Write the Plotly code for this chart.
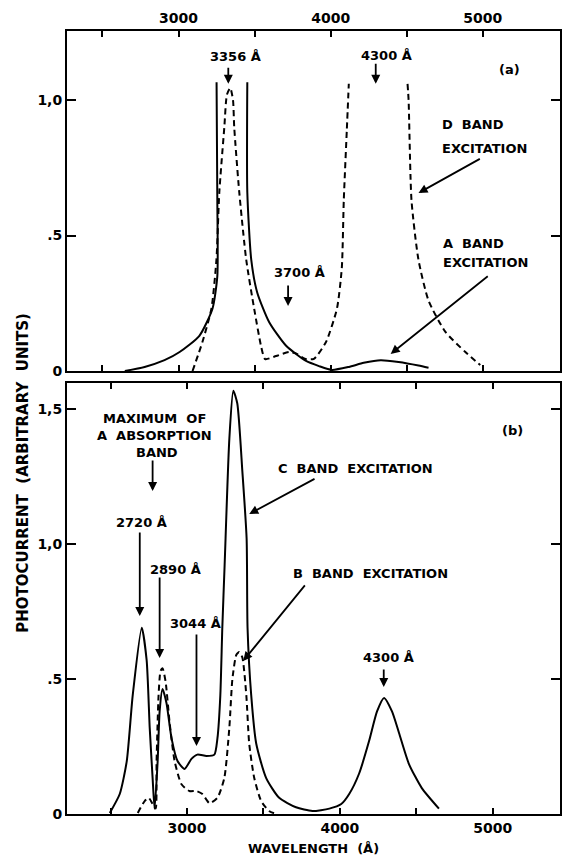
import plotly.graph_objects as go

# ---------------- data ----------------
# Panel (a): A band excitation (solid), off-scale peak drawn truncated
a_band_wl = [2647, 2777, 2908, 3007, 3137, 3223, 3255, 3255, 3250, None,
             3452, 3452, 3478, 3517, 3596, 3707, 3838, 3923, 4008, 4119,
             4217, 4329, 4446, 4577, 4643]
a_band_pc = [0, 0.015, 0.04, 0.07, 0.13, 0.23, 0.35, 0.63, 1.066, None,
             1.066, 0.66, 0.41, 0.29, 0.18, 0.093, 0.037, 0.018, 0.004, 0.015,
             0.03, 0.04, 0.033, 0.02, 0.012]

# Panel (a): D band excitation (dashed)
d_band_wl = [3092, 3157, 3216, 3249, 3268, 3301, 3318, 3340, 3358, 3366,
             3399, 3445, 3497, 3543, 3569, 3641, 3726, 3772, 3830, 3890,
             3969, 4041, 4073, 4086, 4106, 4119, None,
             4505, 4512, 4531, 4577, 4643, 4754, 4885, 4983]
d_band_pc = [0, 0.107, 0.23, 0.41, 0.66, 0.9, 1.02, 1.045, 1.0, 0.9,
             0.66, 0.41, 0.23, 0.09, 0.044, 0.055, 0.07, 0.065, 0.045, 0.045,
             0.107, 0.23, 0.38, 0.63, 0.89, 1.06, None,
             1.06, 1.0, 0.63, 0.41, 0.26, 0.144, 0.07, 0.022]

# Panel (b): C band excitation (solid)
c_band_wl = [2495, 2560, 2606, 2645, 2704, 2736, 2756, 2775, 2788, 2808,
             2821, 2840, 2866, 2899, 2938, 2984, 3029, 3068, 3127, 3179,
             3199, 3218, 3231, 3246, 3277, 3303, 3329, 3362, 3390, 3396,
             3420, 3453, 3518, 3603, 3713, 3820, 3931, 4009, 4061, 4126,
             4191, 4243, 4289, 4341, 4387, 4452, 4536, 4648]
c_band_pc = [0.004, 0.074, 0.196, 0.44, 0.69, 0.57, 0.32, 0.133, 0.019, 0.196,
             0.38, 0.463, 0.41, 0.28, 0.196, 0.167, 0.204, 0.22, 0.215, 0.22,
             0.28, 0.44, 0.69, 0.92, 1.39, 1.567, 1.52, 1.27, 1.02, 0.69,
             0.44, 0.26, 0.133, 0.06, 0.025, 0.011, 0.02, 0.037, 0.074, 0.15,
             0.27, 0.38, 0.43, 0.38, 0.3, 0.185, 0.096, 0.02]

# Panel (b): B band excitation (dashed)
b_band_wl = [2678, 2723, 2749, 2775, 2795, 2801, 2814, 2827, 2840, 2860,
             2886, 2919, 2964, 3016, 3062, 3101, 3147, 3199, 3244, 3277,
             3297, 3323, 3342, 3362, 3388, 3407, 3440, 3485, 3537, 3583]
b_band_pc = [0.004, 0.048, 0.06, 0.037, 0.02, 0.196, 0.44, 0.53, 0.54, 0.49,
             0.34, 0.196, 0.11, 0.085, 0.085, 0.074, 0.04, 0.06, 0.133, 0.32,
             0.5, 0.59, 0.6, 0.58, 0.44, 0.26, 0.133, 0.048, 0.011, 0]

x_tickvals = [2500, 3000, 3500, 4000, 4500, 5000]
x_ticktext = ["", "3000", "", "4000", "", "5000"]
ya_tickvals = [0, 0.5, 1.0]
ya_ticktext = ["0", ".5", "1,0"]
yb_tickvals = [0, 0.5, 1.0, 1.5]
yb_ticktext = ["0", ".5", "1,0", "1,5"]

# ---------------- figure ----------------
FONT = "DejaVu Sans"
LW = 2.0

fig = go.Figure()
line_solid = dict(color="black", width=LW, shape="spline", smoothing=0.6)
line_dash = dict(color="black", width=LW, dash="6px,4px", shape="spline", smoothing=0.6)

fig.add_trace(go.Scatter(x=a_band_wl, y=a_band_pc, mode="lines", line=line_solid,
                         xaxis="x", yaxis="y", connectgaps=False, name="A band"))
fig.add_trace(go.Scatter(x=d_band_wl, y=d_band_pc, mode="lines", line=line_dash,
                         xaxis="x", yaxis="y", connectgaps=False, name="D band"))
fig.add_trace(go.Scatter(x=c_band_wl, y=c_band_pc, mode="lines", line=line_solid,
                         xaxis="x2", yaxis="y2", name="C band"))
fig.add_trace(go.Scatter(x=b_band_wl, y=b_band_pc, mode="lines", line=line_dash,
                         xaxis="x2", yaxis="y2", name="B band"))

tickfont = dict(family=FONT, size=14, color="black", weight="bold")
axis_common = dict(showline=True, linewidth=LW, linecolor="black", ticks="inside",
                   tickwidth=LW, tickcolor="black", showgrid=False, zeroline=False,
                   tickfont=tickfont, fixedrange=True)

RA = [2267, 5507]
RB = [2215, 5440]

fig.update_layout(
    width=567, height=860, autosize=False,
    margin=dict(l=67, r=5, t=31, b=46),
    paper_bgcolor="white", plot_bgcolor="white",
    showlegend=False,
    xaxis=dict(axis_common, domain=[0, 1], anchor="y", side="top", range=RA,
               tickvals=x_tickvals, ticktext=x_ticktext, ticklen=6, mirror="ticks"),
    xaxis3=dict(domain=[0, 1], anchor="y", overlaying="x", side="bottom", range=RA,
                tickvals=x_tickvals, ticks="outside", ticklen=20, tickwidth=LW,
                tickcolor="black", showticklabels=False, showline=False,
                showgrid=False, zeroline=False, fixedrange=True),
    yaxis=dict(axis_common, domain=[0.5658, 1], anchor="x", range=[0, 1.255],
               tickvals=ya_tickvals, ticktext=ya_ticktext, ticklen=9, mirror="ticks"),
    xaxis2=dict(axis_common, domain=[0, 1], anchor="y2", side="bottom", range=RB,
                tickvals=x_tickvals, ticktext=x_ticktext, ticklen=6, mirror="ticks"),
    yaxis2=dict(axis_common, domain=[0, 0.5504], anchor="x2", range=[0, 1.596],
                tickvals=yb_tickvals, ticktext=yb_ticktext, ticklen=9, mirror="ticks"),
)

afont = dict(family=FONT, size=13, color="black", weight="bold")


def label(text, x, y, xr, yr, xanchor="center"):
    fig.add_annotation(text=text, x=x, y=y, xref=xr, yref=yr, showarrow=False,
                       font=afont, xanchor=xanchor, yanchor="middle")


def arrow(x, y, ax, ay, xr, yr):
    fig.add_annotation(text="", x=x, y=y, ax=ax, ay=ay, xref=xr, yref=yr,
                       axref=xr, ayref=yr, showarrow=True, arrowhead=2,
                       arrowsize=1.0, arrowwidth=1.8, arrowcolor="black", standoff=0)


# panel (a)
label("3356 Å", 3376, 1.162, "x", "y")
arrow(3327, 1.06, 3327, 1.125, "x", "y")
label("4300 Å", 4368, 1.165, "x", "y")
arrow(4296, 1.06, 4296, 1.14, "x", "y")
label("(a)", 5173, 1.114, "x", "y")
label("D  BAND", 4721, 0.911, "x", "y", "left")
label("EXCITATION", 4721, 0.823, "x", "y", "left")
arrow(4577, 0.657, 4990, 0.786, "x", "y")
label("A  BAND", 4728, 0.472, "x", "y", "left")
label("EXCITATION", 4728, 0.399, "x", "y", "left")
arrow(4394, 0.063, 5042, 0.354, "x", "y")
label("3700 Å", 3792, 0.365, "x", "y")
arrow(3720, 0.24, 3720, 0.321, "x", "y")

# panel (b)
label("(b)", 5127, 1.419, "x2", "y2")
label("MAXIMUM  OF", 2788, 1.463, "x2", "y2")
label("A  ABSORPTION", 2788, 1.40, "x2", "y2")
label("BAND", 2801, 1.337, "x2", "y2")
arrow(2775, 1.196, 2775, 1.315, "x2", "y2")
label("2720 Å", 2704, 1.078, "x2", "y2")
arrow(2691, 0.733, 2691, 1.048, "x2", "y2")
label("2890 Å", 2922, 0.907, "x2", "y2")
arrow(2821, 0.578, 2821, 0.881, "x2", "y2")
label("3044 Å", 3055, 0.707, "x2", "y2")
arrow(3062, 0.252, 3062, 0.67, "x2", "y2")
label("C  BAND  EXCITATION", 3583, 1.281, "x2", "y2", "left")
arrow(3407, 1.111, 3844, 1.244, "x2", "y2")
label("B  BAND  EXCITATION", 3681, 0.889, "x2", "y2", "left")
arrow(3368, 0.567, 3779, 0.852, "x2", "y2")
label("4300 Å", 4319, 0.578, "x2", "y2")
arrow(4287, 0.47, 4287, 0.541, "x2", "y2")

# axis titles
fig.add_annotation(text="PHOTOCURRENT  (ARBITRARY  UNITS)", x=-0.091, y=0.436,
                   xref="paper", yref="paper", showarrow=False, textangle=-90,
                   font=dict(family=FONT, size=15, color="black", weight="bold"),
                   xanchor="center", yanchor="middle")
fig.add_annotation(text="WAVELENGTH  (Å)", x=0.5, y=-0.044,
                   xref="paper", yref="paper", showarrow=False,
                   font=dict(family=FONT, size=13, color="black", weight="bold"),
                   xanchor="center", yanchor="middle")

# remove the default page margin so the 567x860 figure fills the window exactly
fig.write_html("out.html",
               config={"displayModeBar": False},
               post_script="document.body.style.margin='0';"
                           "document.body.style.overflow='hidden';")
